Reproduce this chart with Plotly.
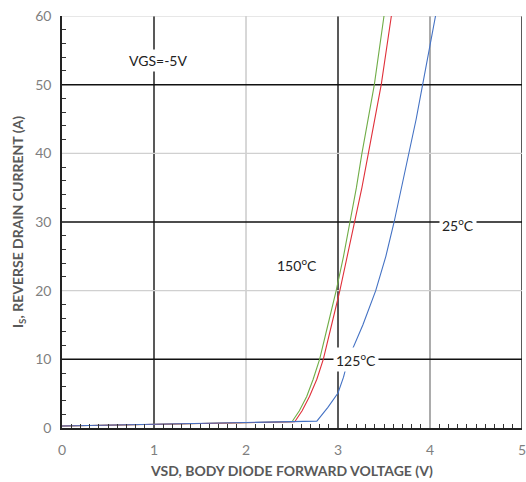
import plotly.graph_objects as go

# Body diode forward characteristics
vsd_150 = [0.0, 1.0, 2.0, 2.5, 2.58, 2.66, 2.73, 2.8, 2.89, 2.98, 3.06, 3.13, 3.2, 3.26, 3.33, 3.395, 3.5]
is_150 = [0.3, 0.5, 0.7, 0.9, 2.5, 4.6, 7.1, 10.0, 15.0, 20.0, 25.0, 30.0, 35.0, 40.0, 45.0, 50.0, 60.0]

vsd_125 = [0.0, 1.0, 2.0, 2.53, 2.61, 2.69, 2.77, 2.84, 2.93, 3.02, 3.1, 3.18, 3.26, 3.33, 3.4, 3.47, 3.58]
is_125 = [0.3, 0.5, 0.7, 0.9, 2.5, 4.6, 7.1, 10.0, 15.0, 20.0, 25.0, 30.0, 35.0, 40.0, 45.0, 50.0, 60.0]

vsd_25 = [0.0, 1.0, 2.0, 2.77, 2.89, 3.0, 3.06, 3.11, 3.27, 3.41, 3.52, 3.61, 3.69, 3.77, 3.85, 3.92, 4.06]
is_25 = [0.3, 0.5, 0.8, 1.0, 3.0, 5.1, 7.4, 10.0, 15.0, 20.0, 25.0, 30.0, 35.0, 40.0, 45.0, 50.0, 60.0]

dark_x = [1, 3, 5]
mid_x = [4]
light_x = [2]
dark_y = [10, 30, 50]
light_y = [20, 40, 60]

fig = go.Figure()

for xs, ys, color, name in [
    (vsd_150, is_150, "#70ad47", "150ºC"),
    (vsd_125, is_125, "#e0303a", "125ºC"),
    (vsd_25, is_25, "#4472c4", "25ºC"),
]:
    fig.add_trace(go.Scatter(x=xs, y=ys, mode="lines", name=name,
                             line=dict(color=color, width=1.1),
                             hoverinfo="skip"))

# Grid lines with uneven weights like the scanned original
for v in dark_x:
    fig.add_shape(type="line", xref="x", yref="paper", x0=v, x1=v, y0=0, y1=1,
                  line=dict(color="#222222", width=1.5), layer="below")
for v in mid_x:
    fig.add_shape(type="line", xref="x", yref="paper", x0=v, x1=v, y0=0, y1=1,
                  line=dict(color="#7f7f7f", width=1.3), layer="below")
for v in light_x:
    fig.add_shape(type="line", xref="x", yref="paper", x0=v, x1=v, y0=0, y1=1,
                  line=dict(color="#b0b0b0", width=1), layer="below")
for v in dark_y:
    fig.add_shape(type="line", xref="paper", yref="y", x0=0, x1=1, y0=v, y1=v,
                  line=dict(color="#111111", width=1.5), layer="below")
for v in light_y:
    fig.add_shape(type="line", xref="paper", yref="y", x0=0, x1=1, y0=v, y1=v,
                  line=dict(color="#d0d0d0", width=1.2), layer="below")

label_font = dict(family="Lato, Open Sans, sans-serif", size=14, color="#222222")
notes = [
    (1.04, 53.5, "VGS=-5V"),
    (4.3, 29.7, "25<sup>o</sup>C"),
    (2.55, 23.8, "150<sup>o</sup>C"),
    (3.2, 10.0, "125<sup>o</sup>C"),
]
for x, y, text in notes:
    fig.add_annotation(x=x, y=y, text=text, showarrow=False, font=label_font,
                       bgcolor="white", borderpad=2)

fig.update_layout(
    width=526,
    height=482,
    plot_bgcolor="white",
    paper_bgcolor="white",
    showlegend=False,
    margin=dict(l=62, r=4, t=16, b=54),
    font=dict(family="Lato, Open Sans, sans-serif", color="#595959", size=14),
    xaxis=dict(
        range=[0, 5], dtick=1, showgrid=False, zeroline=False, automargin=False,
        showline=True, linecolor="#222222", linewidth=1.5,
        ticks="", tickfont=dict(size=14, color="#7f7f7f"),
        ticklabeloverflow="allow", ticklabelstandoff=8,
        minor=dict(dtick=0.1, ticks="inside", ticklen=4, tickcolor="#333333"),
        title=dict(text="<b>VSD, BODY DIODE FORWARD VOLTAGE (V)</b>",
                   font=dict(size=14, color="#595959"), standoff=10),
    ),
    yaxis=dict(
        range=[0, 60], dtick=10, showgrid=False, zeroline=False, automargin=False,
        showline=True, linecolor="#222222", linewidth=1.5,
        ticks="", tickfont=dict(size=14, color="#7f7f7f"),
        ticklabeloverflow="allow", ticklabelstandoff=6,
        minor=dict(dtick=2, ticks="inside", ticklen=4, tickcolor="#333333"),
        title=dict(text="<b>I<sub>S</sub>, REVERSE DRAIN CURRENT (A)</b>",
                   font=dict(size=14, color="#595959"), standoff=8),
    ),
)

# drop the page's default body margin so the 526x482 figure fills the window
fig.write_html("out.html", config=dict(displayModeBar=False),
               post_script="document.body.style.margin='0';document.body.style.overflow='hidden';")
